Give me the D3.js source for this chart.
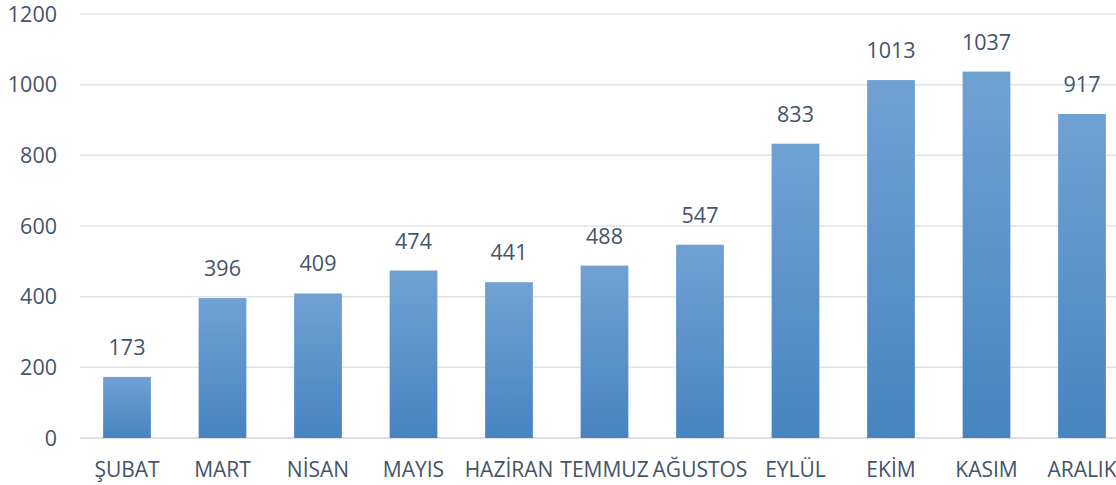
<!DOCTYPE html>
<html><head><meta charset="utf-8">
<script src="https://cdn.jsdelivr.net/npm/d3@7"></script>
<style>body{margin:0;background:#fff}svg{display:block}text{font-family:"Open Sans",sans-serif;fill:#44546a}</style>
</head><body><svg id="c" width="1116" height="485"></svg>
<script>
const categories = ["ŞUBAT","MART","NİSAN","MAYIS","HAZİRAN","TEMMUZ","AĞUSTOS","EYLÜL","EKİM","KASIM","ARALIK"];
const values = [173,396,409,474,441,488,547,833,1013,1037,917];
const yTicks = [0,200,400,600,800,1000,1200];

const svg = d3.select("#c");
const x = d3.scaleBand().domain(categories).range([79.25,1129.75]).paddingInner(0.5).paddingOuter(0.25);
const y = d3.scaleLinear().domain([0,1200]).range([438,14]);

const defs = svg.append("defs");
const g = defs.append("linearGradient").attr("id","bg").attr("x1",0).attr("y1",0).attr("x2",0).attr("y2",1);
g.append("stop").attr("offset","0%").attr("stop-color","#70a1d3");
g.append("stop").attr("offset","100%").attr("stop-color","#4784c1");

svg.append("g").selectAll("line").data(yTicks).join("line")
  .attr("x1",80).attr("x2",1116).attr("y1",d=>y(d)).attr("y2",d=>y(d))
  .attr("stroke",d=>d===0?"#d0d5dc":"#dfe2e7").attr("stroke-width",1.5);

svg.append("g").selectAll("text").data(yTicks).join("text")
  .attr("x",57).attr("y",d=>y(d)).attr("dy","0.36em").attr("text-anchor","end")
  .attr("font-size",21.5).text(d=>d);

svg.append("g").selectAll("rect").data(values).join("rect")
  .attr("x",(d,i)=>x(categories[i])).attr("width",x.bandwidth())
  .attr("y",d=>y(d)).attr("height",d=>y(0)-y(d)).attr("fill","url(#bg)");

svg.append("g").selectAll("text").data(values).join("text")
  .attr("x",(d,i)=>x(categories[i])+x.bandwidth()/2).attr("y",d=>y(d)-22)
  .attr("text-anchor","middle").attr("font-size",21.5).text(d=>d);

svg.append("g").selectAll("text").data(categories).join("text")
  .attr("x",d=>x(d)+x.bandwidth()/2).attr("y",477)
  .attr("text-anchor","middle").attr("font-size",21).text(d=>d);
</script></body></html>
